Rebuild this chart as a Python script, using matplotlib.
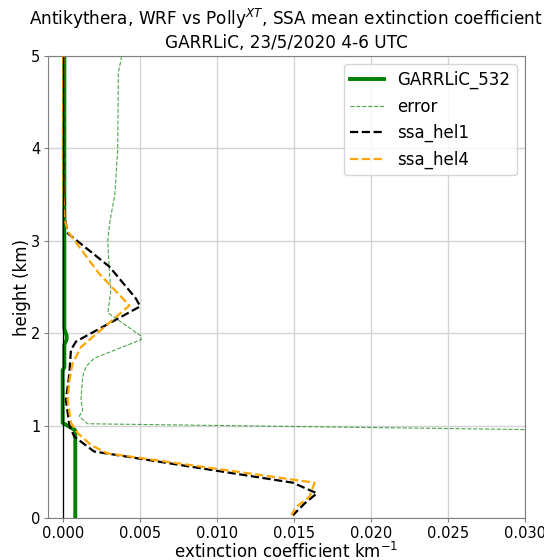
import matplotlib
matplotlib.use('Agg')
import matplotlib.pyplot as plt

# GARRLiC retrieval at 532 nm
garrlic_h = [5.0, 2.05, 1.97, 1.93, 1.88, 1.63, 1.60, 1.03, 0.95, 0.0]
garrlic_ext = [0.00007, 0.00007, 0.00022, 0.00022, 0.00007, 0.00007, -0.00004, -0.00004, 0.00078, 0.00078]

# GARRLiC error
error_h = [5.0, 4.82, 4.0, 3.5, 3.22, 3.0, 2.65, 2.47, 2.22, 1.97, 1.93, 1.73, 1.64,
           1.53, 1.28, 1.17, 1.10, 1.02, 0.935]
error_ext = [0.0038, 0.00358, 0.00354, 0.00335, 0.00304, 0.00289, 0.0030, 0.0031, 0.0029,
             0.00506, 0.00506, 0.00202, 0.00148, 0.00126, 0.00115, 0.00126, 0.00104,
             0.00158, 0.040]

# WRF sea salt, helicity 1
hel1_h = [5.0, 4.0, 3.6, 3.44, 3.22, 3.08, 2.72, 2.38, 2.29, 1.91, 1.82, 1.55, 1.28,
          1.0, 0.88, 0.72, 0.382, 0.267, 0.16, 0.03]
hel1_ext = [0.0, 0.0, 0.00003, 0.00007, 0.00013, 0.0003, 0.003, 0.0047, 0.005, 0.00083,
            0.0005, 0.00039, 0.00017, 0.0004, 0.00072, 0.002, 0.01492, 0.01648, 0.0157,
            0.01492]

# WRF sea salt, helicity 4
hel4_h = [5.0, 4.0, 3.5, 3.22, 3.1, 2.65, 2.30, 1.85, 1.67, 1.49, 1.28, 1.03, 0.92,
          0.79, 0.70, 0.382, 0.23, 0.12, 0.03]
hel4_ext = [0.0, -0.00003, 0.0, 0.0001, 0.0003, 0.0023, 0.0043, 0.00115, 0.0006, 0.0004,
            0.00028, 0.0005, 0.00093, 0.0018, 0.00286, 0.01633, 0.0160, 0.01514, 0.01482]

fig = plt.figure(figsize=(5.44, 5.6), dpi=100)
ax = fig.add_axes([0.088, 0.075, 0.877, 0.825])

ax.plot(garrlic_ext, garrlic_h, color='green', lw=2.8, label='GARRLiC_532')
ax.plot(error_ext, error_h, color='green', lw=0.8, ls='--', alpha=0.7, label='error')
ax.plot(hel1_ext, hel1_h, color='black', lw=1.6, ls='--', label='ssa_hel1')
ax.plot(hel4_ext, hel4_h, color='orange', lw=1.6, ls='--', label='ssa_hel4')
ax.axvline(0, color='black', lw=0.9)

ax.set_xlim(-0.001, 0.030)
ax.set_ylim(0, 5)
ax.set_xticks([0.0, 0.005, 0.010, 0.015, 0.020, 0.025, 0.030])
ax.set_yticks([0, 1, 2, 3, 4, 5])
ax.grid(True, color='#d3d3d3', lw=1)
ax.tick_params(labelsize=10.5, color='gray', length=3, pad=2.5)
for s in ax.spines.values():
    s.set_color('gray')

ax.set_xlabel('extinction coefficient km$^{-1}$', fontsize=12, labelpad=1)
ax.set_ylabel('height (km)', fontsize=12, labelpad=0)
ax.set_title('Antikythera, WRF vs Polly$^{XT}$, SSA mean extinction coefficient\n'
             'GARRLiC, 23/5/2020 4-6 UTC', fontsize=12.2)
ax.legend(loc='upper right', fontsize=12)

plt.savefig('out.png', dpi=100)
